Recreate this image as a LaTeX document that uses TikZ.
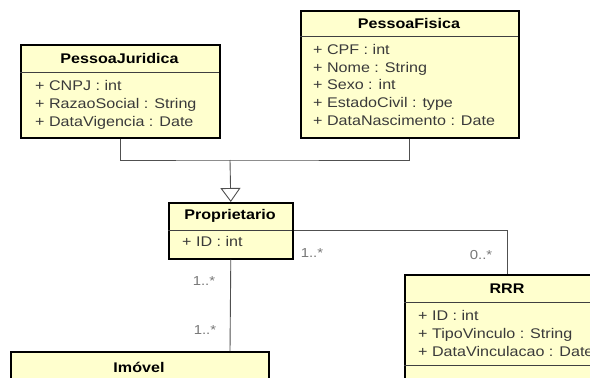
\documentclass[tikz,border=0pt]{standalone}
\usepackage{fontspec}
\setmainfont[FakeStretch=1.15]{Liberation Sans}
\usetikzlibrary{arrows.meta}
\definecolor{umlfill}{RGB}{255,255,206}
\definecolor{attrgray}{RGB}{58,58,58}
\definecolor{multgray}{RGB}{120,120,120}
\definecolor{linegray}{RGB}{80,80,80}
\begin{document}
\begin{tikzpicture}[x=1pt,y=-1pt,
  cls/.style={draw=black, line width=1.6pt, fill=umlfill, inner sep=0pt, anchor=north west},
  ttl/.style={font=\fontsize{14}{14}\selectfont\bfseries, text=black, inner sep=0pt},
  attr/.style={font=\fontsize{14}{14}\selectfont, text=attrgray, anchor=mid west, inner sep=0pt},
  mult/.style={font=\fontsize{13}{13}\selectfont, text=multgray, inner sep=0pt},
  sep/.style={draw=black!75, line width=0.8pt},
  link/.style={draw=linegray, line width=0.9pt}]
  \clip (0,0) rectangle (590,378);
  \fill[white] (0,0) rectangle (590,378);

  % class PessoaJuridica
  \node[cls, minimum width=199pt, minimum height=93pt] (pj) at (20,44) {};
  \draw[sep] (20,72) -- (219,72);
  \node[ttl] (pjt) at (119.5,58) {PessoaJuridica};
  \node[attr] (pja1) at (35,88) {+ CNPJ : int};
  \node[attr] (pja2) at (35,106) {+ RazaoSocial : String};
  \node[attr] (pja3) at (35,124) {+ DataVigencia : Date};

  % class PessoaFisica
  \node[cls, minimum width=218pt, minimum height=127pt] (pf) at (300,10) {};
  \draw[sep] (300,36) -- (518,36);
  \node[ttl] (pft) at (409,23) {PessoaFisica};
  \node[attr] (pfa1) at (313,52) {+ CPF : int};
  \node[attr] (pfa2) at (313,69.5) {+ Nome : String};
  \node[attr] (pfa3) at (313,87) {+ Sexo : int};
  \node[attr] (pfa4) at (313,105) {+ EstadoCivil : type};
  \node[attr] (pfa5) at (313,123) {+ DataNascimento : Date};

  % class Proprietario
  \node[cls, minimum width=124pt, minimum height=56pt] (pr) at (168,202) {};
  \draw[sep] (168,230) -- (292,230);
  \node[ttl] (prt) at (230,216) {Proprietario};
  \node[attr] (pra1) at (182,244) {+ ID : int};

  % class RRR
  \node[cls, minimum width=206pt, minimum height=140pt] (rrr) at (404,274) {};
  \draw[sep] (404,302) -- (610,302);
  \draw[sep] (404,365) -- (610,365);
  \node[ttl] (rrrt) at (507,289) {RRR};
  \node[attr] (rrra1) at (418,318) {+ ID : int};
  \node[attr] (rrra2) at (418,336) {+ TipoVinculo : String};
  \node[attr] (rrra3) at (418,354) {+ DataVinculacao : Date};

  % class Imovel
  \node[cls, minimum width=258pt, minimum height=60pt] (im) at (10,351) {};
  \node[ttl] (imt) at (139,367.5) {Imóvel};

  % generalization
  \coordinate (gj) at (230,160);
  \draw[link] (pj.south) |- (gj) -| (pf.south);
  \draw[link, -{Triangle[open, width=20pt, length=14pt, line width=0.9pt, fill=white]}] (gj) -- (pr.north);

  % association Proprietario -- RRR
  \coordinate (rc) at (rrr.north);
  \draw[link] (pr.east |- 0,230) -| (rc);
  \node[mult] (m1) at (312,253) {1..*};
  \node[mult] (m2) at (481,255) {0..*};

  % association Proprietario -- Imovel
  \coordinate (ic) at (230,351);
  \draw[link] (pr.south) -- (ic);
  \node[mult] (m3) at (204,281) {1..*};
  \node[mult] (m4) at (205,330) {1..*};
\end{tikzpicture}
\end{document}
